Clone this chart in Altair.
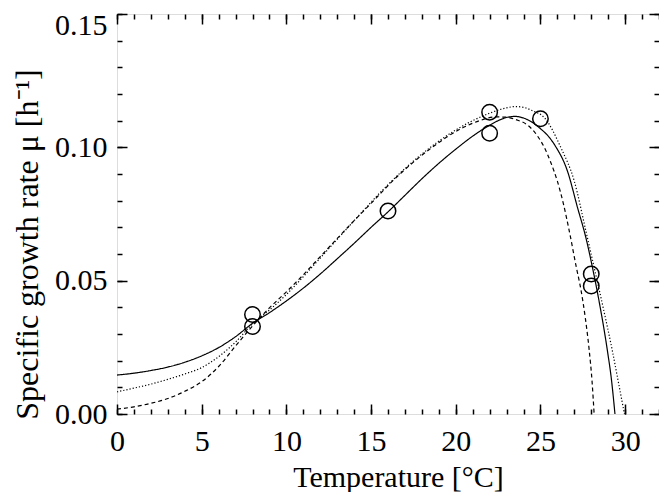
import altair as alt
import pandas as pd

# observed data
T_obs = [8, 8, 16, 22, 22, 25, 28, 28]
mu_obs = [0.0328, 0.0373, 0.0761, 0.1132, 0.1053, 0.1107, 0.0525, 0.0480]

# solid model curve
T_solid = [0, 1, 2, 3, 4, 5, 6, 7, 8, 9, 10, 11, 12, 13, 14, 15, 16, 17, 18, 19, 20, 21, 22, 22.5,
           23, 23.5, 24, 24.85, 25.83, 26.6, 27.19, 27.68, 28.07, 28.5, 28.95, 29.2, 29.4]
mu_solid = [0.0146, 0.0153, 0.0163, 0.0176, 0.0194, 0.0218, 0.0249, 0.0290, 0.0340, 0.0380, 0.0424,
            0.0472, 0.0525, 0.0582, 0.0640, 0.0700, 0.0758, 0.0820, 0.0882, 0.0940, 0.0993, 0.1042,
            0.1083, 0.1100, 0.1112, 0.1116, 0.1110, 0.1078, 0.1010, 0.0910, 0.0774, 0.0662, 0.0550,
            0.0410, 0.0239, 0.0125, 0.0]

# dashed model curve
T_dash = [0, 1, 2, 3, 4, 5, 6, 7, 8, 9, 10, 11, 12, 13, 14, 15, 16.47, 18.42, 20.37, 21.5, 22.32,
          23, 23.6, 24.27, 24.8, 25.25, 25.6, 26.0, 26.35, 26.7, 27.1, 27.4, 27.65, 27.88, 28.05, 28.17]
mu_dash = [0.0018, 0.0027, 0.0040, 0.0058, 0.0085, 0.0121, 0.0178, 0.0255, 0.0330, 0.0398, 0.0458,
           0.0522, 0.0590, 0.0658, 0.0725, 0.0790, 0.0886, 0.0991, 0.1072, 0.1102, 0.1114, 0.1113,
           0.1103, 0.1082, 0.1045, 0.0997, 0.0945, 0.0873, 0.0790, 0.0687, 0.0556, 0.0463, 0.0360,
           0.0239, 0.0120, 0.0]

# dotted model curve
T_dot = [0, 1, 2, 3, 4, 5, 6, 7, 8, 9, 10, 11, 12, 13, 14, 16, 18, 20, 21, 22, 23, 23.5, 24, 24.5,
         25.25, 26.22, 27.0, 27.68, 28.17, 28.7, 29.24, 29.6, 29.96]
mu_dot = [0.0083, 0.0097, 0.0112, 0.0130, 0.0150, 0.0174, 0.0215, 0.0270, 0.0338, 0.0390, 0.0448,
          0.0515, 0.0585, 0.0655, 0.0725, 0.0860, 0.0975, 0.1065, 0.1100, 0.1128, 0.1148, 0.1153,
          0.1150, 0.1138, 0.1110, 0.0997, 0.0873, 0.0687, 0.0550, 0.0400, 0.0239, 0.0120, 0.0]

# axis ticks
x_major = [0, 5, 10, 15, 20, 25, 30]
x_minor = list(range(0, 33))
y_major = [0.0, 0.05, 0.10, 0.15]
y_labels_main = [0.0, 0.05, 0.10]
y_labels_top = [0.15]
y_minor = [0.0, 0.01, 0.02, 0.03, 0.04, 0.05, 0.06, 0.07, 0.08, 0.09, 0.10, 0.11, 0.12, 0.13, 0.14, 0.15]

FONT = "Liberation Serif"
xs = alt.Scale(domain=[0, 32], nice=False, zero=False)
ys = alt.Scale(domain=[0, 0.15], nice=False, zero=False)

obs = pd.DataFrame({"T": T_obs, "mu": mu_obs})
solid = pd.DataFrame({"T": T_solid, "mu": mu_solid})
dash = pd.DataFrame({"T": T_dash, "mu": mu_dash})
dot = pd.DataFrame({"T": T_dot, "mu": mu_dot})


def line(df, dash_pattern):
    return alt.Chart(df).mark_line(
        color="black", strokeWidth=1.2, strokeDash=dash_pattern, clip=True, interpolate="monotone"
    ).encode(
        x=alt.X("T:Q", scale=xs, axis=None),
        y=alt.Y("mu:Q", scale=ys, axis=None),
    )


lines = [line(solid, [1, 0]), line(dash, [4, 3]), line(dot, [1.2, 2])]

points = alt.Chart(obs).mark_point(
    shape="circle", size=240, filled=False, color="black", strokeWidth=1.5, opacity=1
).encode(
    x=alt.X("T:Q", scale=xs, axis=alt.Axis(
        orient="bottom", values=x_major, ticks=False, domain=False, grid=False,
        labelFont=FONT, labelFontSize=30, labelColor="black", labelPadding=12,
        labelFlush=False, labelOverlap=False,
        title="Temperature [°C]", titleFont=FONT, titleFontSize=30, titleFontWeight="normal",
        titleColor="black", titleX=281, titleY=72, titleBaseline="alphabetic", titleAlign="center")),
    y=alt.Y("mu:Q", scale=ys, axis=alt.Axis(
        orient="left", values=y_labels_main, format=".2f", ticks=False, domain=False, grid=False,
        labelFont=FONT, labelFontSize=30, labelColor="black", labelPadding=10,
        labelFlush=False, labelOverlap=False,
        title="Specific growth rate μ [h⁻¹]", titleFont=FONT, titleFontSize=32,
        titleFontWeight="normal", titleColor="black", titleAngle=270,
        titleX=-80, titleY=230, titleBaseline="alphabetic", titleAlign="center")),
)

# top y label, nudged down so it is not cut by the page edge
top_label = alt.Chart(obs).mark_point(opacity=0).encode(
    x=alt.X("T:Q", scale=xs, axis=None),
    y=alt.Y("mu:Q", scale=ys, axis=alt.Axis(
        orient="left", values=y_labels_top, format=".2f", ticks=False, domain=False, grid=False,
        labelFont=FONT, labelFontSize=30, labelColor="black", labelPadding=10,
        labelFlush=False, labelOverlap=False, labelOffset=11, title=None)),
)


def tick_layer(xvals, yvals, size, xorient, yorient):
    inward = {"expr": str(-size)}
    return alt.Chart(obs).mark_point(opacity=0).encode(
        x=alt.X("T:Q", scale=xs, axis=alt.Axis(
            orient=xorient, values=xvals, tickSize=inward, domain=False,
            labels=False, grid=False, title=None, tickColor="black", tickWidth=1.5)),
        y=alt.Y("mu:Q", scale=ys, axis=alt.Axis(
            orient=yorient, values=yvals, tickSize=inward, domain=False,
            labels=False, grid=False, title=None, tickColor="black", tickWidth=1.5)),
    )


ticks = [
    tick_layer(x_major, y_major, 10, "bottom", "left"),
    tick_layer(x_minor, y_minor, 5, "bottom", "left"),
    tick_layer(x_major, y_major, 10, "top", "right"),
    tick_layer(x_minor, y_minor, 5, "top", "right"),
]

chart = alt.layer(points, top_label, *lines, *ticks).resolve_axis(
    x="independent", y="independent"
).properties(
    width=542, height=400,
    autosize=alt.AutoSizeParams(type="none"),
    padding={"left": 109, "top": 6, "right": 0, "bottom": 78},
).configure_view(
    stroke="black", strokeWidth=1.8
).configure(background="white")

chart.save("out.html", embed_options={"renderer": "svg", "actions": False})
